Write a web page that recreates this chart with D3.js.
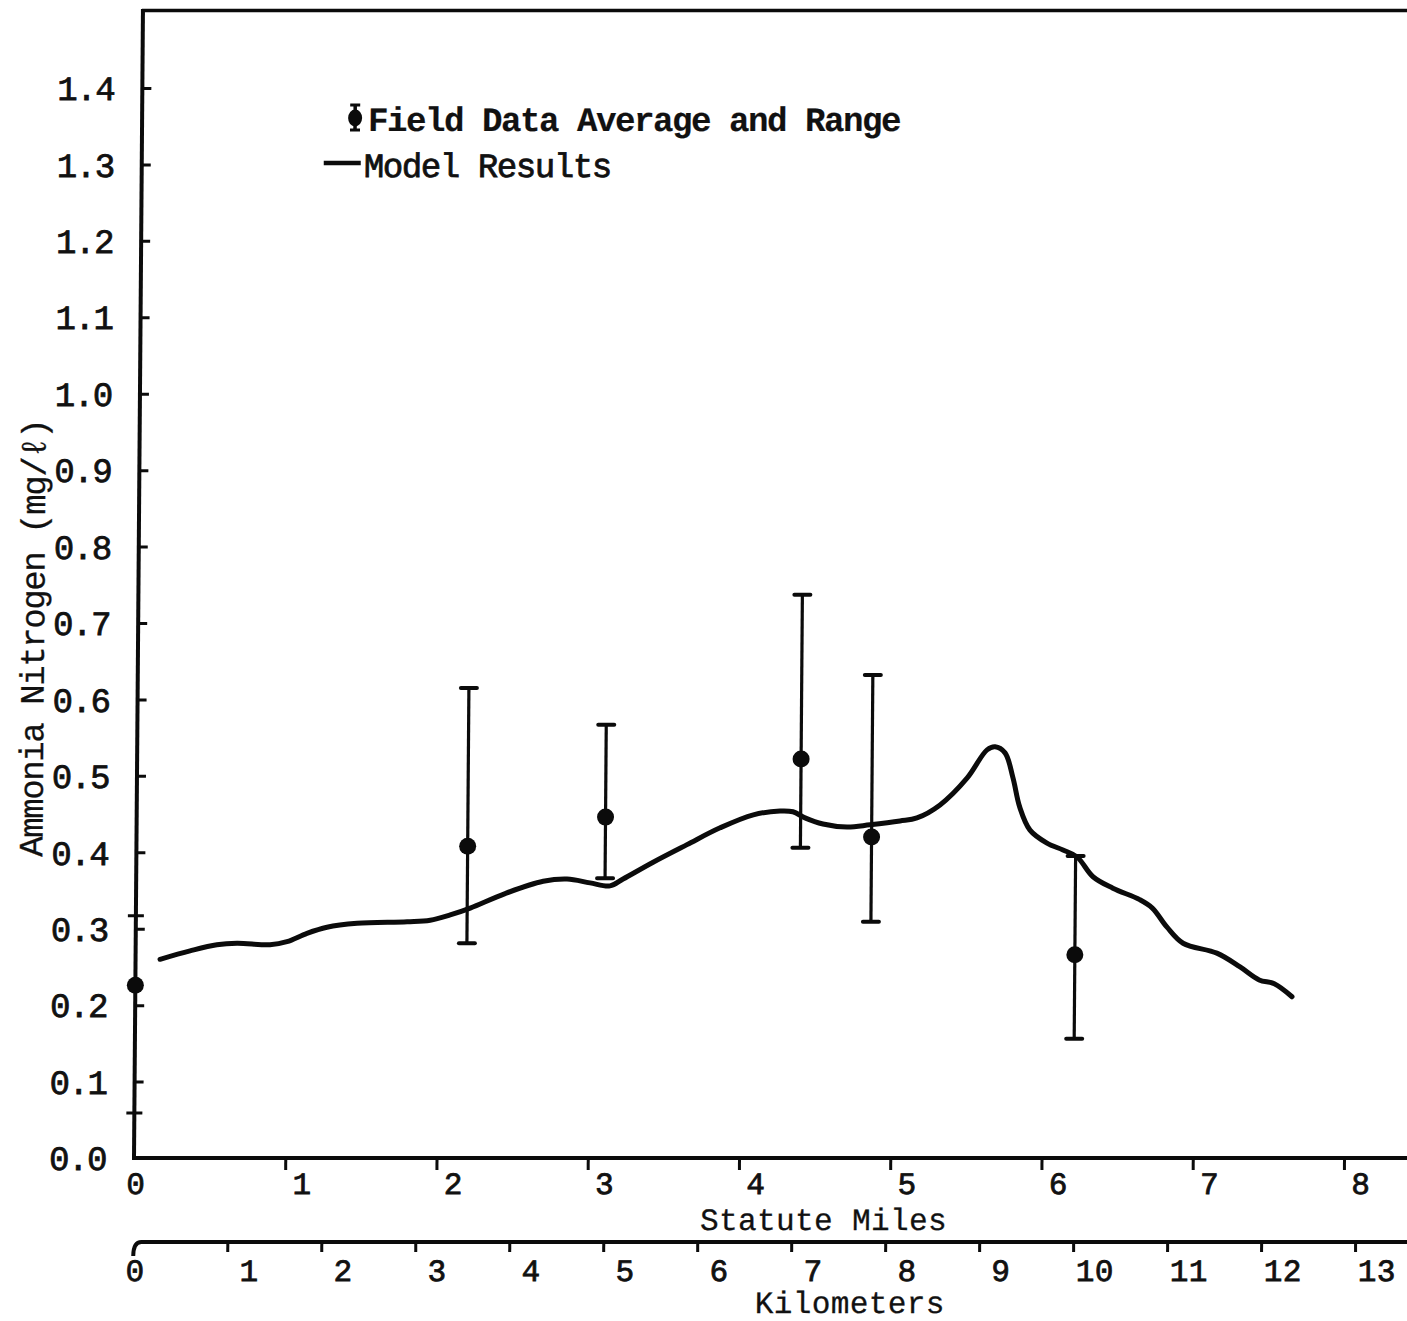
<!DOCTYPE html>
<html>
<head>
<meta charset="utf-8">
<script src="https://cdn.jsdelivr.net/npm/d3@7"></script>
<style>
  html, body { margin: 0; padding: 0; background: #fff; }
  svg { display: block; }
  .tt { font-family: "Liberation Mono", "Courier New", monospace; font-size: 34px; letter-spacing: -1.4px;
        fill: #111; stroke: #111; stroke-width: 0.8px; }
  .bold { font-weight: bold; stroke-width: 0.2px; }
  .ax { font-size: 31px; letter-spacing: 0.4px; }
</style>
</head>
<body>
<svg id="chart" width="1407" height="1321"></svg>
<script>
// Distance downstream (statute miles) and ammonia nitrogen (mg/l)
const milesTicks = [0, 1, 2, 3, 4, 5, 6, 7, 8];
const kmTicks = [0, 1, 2, 3, 4, 5, 6, 7, 8, 9, 10, 11, 12, 13];
const yTicks = [0.0, 0.1, 0.2, 0.3, 0.4, 0.5, 0.6, 0.7, 0.8, 0.9, 1.0, 1.1, 1.2, 1.3, 1.4];

// Field data: station position, average, and observed range
const fieldMiles = [0.0, 2.19, 3.10, 4.39, 4.86, 6.21];
const fieldAvg   = [0.226, 0.408, 0.446, 0.522, 0.420, 0.266];
const fieldMin   = [null, 0.281, 0.366, 0.406, 0.309, 0.156];
const fieldMax   = [null, 0.615, 0.567, 0.737, 0.632, 0.395];

// Model results along the reach
const modelMiles = [0.162, 0.360, 0.537, 0.670, 0.888, 1.000, 1.132, 1.264, 1.463, 1.794, 1.946,
  2.078, 2.210, 2.440, 2.691, 2.849, 3.001, 3.133, 3.219, 3.417, 3.640, 3.858, 4.077,
  4.253, 4.339, 4.419, 4.538, 4.697, 4.849, 5.047, 5.159, 5.311, 5.488, 5.619, 5.672, 5.738,
  5.791, 5.838, 5.907, 6.020, 6.126, 6.219, 6.326, 6.458, 6.636, 6.720, 6.818, 6.925, 7.149,
  7.303, 7.430, 7.530, 7.648];
const modelValues = [0.260, 0.271, 0.279, 0.281, 0.279, 0.283, 0.294, 0.302, 0.307, 0.309, 0.311,
  0.318, 0.327, 0.346, 0.362, 0.365, 0.360, 0.356, 0.365, 0.387, 0.410, 0.432, 0.449,
  0.454, 0.453, 0.445, 0.437, 0.433, 0.436, 0.441, 0.445, 0.462, 0.497, 0.534, 0.538, 0.530,
  0.498, 0.459, 0.429, 0.412, 0.403, 0.394, 0.368, 0.353, 0.338, 0.327, 0.302, 0.281, 0.268,
  0.250, 0.233, 0.228, 0.211];

// Stray check marks typed on the vertical axis
const axisMarks = [0.317, 0.059];

const KM_PER_MILE = 1.609344;
const W = 1407, H = 1321;
const x0 = 134, pxPerMile = 151.25;
const yBase = 1158;

const svg = d3.select("#chart");
svg.append("rect").attr("width", W).attr("height", H).attr("fill", "#fff");

// the whole sheet leans slightly to the right toward the top
const g = svg.append("g")
  .attr("transform", `translate(0,${yBase}) skewX(-0.447) translate(0,${-yBase})`);

const maxMiles = (W - x0) / pxPerMile;
const x = d3.scaleLinear().domain([0, maxMiles]).range([x0, x0 + maxMiles * pxPerMile]);
const xKm = d3.scaleLinear().domain([0, maxMiles * KM_PER_MILE]).range([x0, x0 + maxMiles * pxPerMile]);
const y = d3.scaleLinear().domain([0, 1.5]).range([yBase, yBase - 1.5 * 764.3]);

const ink = "#0b0b0b";

// frame: top rule and vertical axis
g.append("line").attr("x1", x(0) - 1).attr("x2", W + 20)
  .attr("y1", y(1.5) - 1).attr("y2", y(1.5) - 1).attr("stroke", ink).attr("stroke-width", 3.5);
g.append("line").attr("x1", x(0)).attr("x2", x(0))
  .attr("y1", y(1.5) - 2.5).attr("y2", y(0) + 2).attr("stroke", ink).attr("stroke-width", 4);

// y ticks (pointing into the plot)
const yAxis = d3.axisRight(y).tickValues(yTicks.filter(v => v > 0)).tickSize(9).tickFormat("");
const yg = g.append("g").attr("transform", `translate(${x(0)},0)`).call(yAxis);
yg.select(".domain").remove();
yg.selectAll(".tick line").attr("stroke", ink).attr("stroke-width", 3);

// stray crossing marks
g.selectAll(".mark").data(axisMarks).join("line")
  .attr("x1", x(0) - 8).attr("x2", x(0) + 8)
  .attr("y1", d => y(d)).attr("y2", d => y(d))
  .attr("stroke", ink).attr("stroke-width", 3);

// y labels
g.selectAll(".ylab").data(yTicks).join("text")
  .attr("class", "tt")
  .attr("x", x(0) - 28).attr("y", d => y(d))
  .attr("dy", "0.36em").attr("text-anchor", "end")
  .text(d => d3.format(".1f")(d));

// y title
g.append("text").attr("class", "tt")
  .attr("transform", `translate(40,${y(0.68)}) rotate(-90)`)
  .attr("text-anchor", "middle")
  .style("stroke-width", "0.3px")
  .text("Ammonia Nitrogen (mg/ℓ)");

// statute miles axis
g.append("line").attr("x1", x(0) - 2).attr("x2", W + 20)
  .attr("y1", y(0)).attr("y2", y(0)).attr("stroke", ink).attr("stroke-width", 4);
const xAxis = d3.axisBottom(x).tickValues(milesTicks.filter(v => v > 0)).tickSize(12).tickFormat("");
const xg = g.append("g").attr("transform", `translate(0,${y(0)})`).call(xAxis);
xg.select(".domain").remove();
xg.selectAll(".tick line").attr("stroke", ink).attr("stroke-width", 3);
g.selectAll(".xlab").data(milesTicks).join("text")
  .attr("class", "tt ax")
  .attr("x", d => x(d) + (d === 0 ? 2 : 17)).attr("y", y(0) + 25)
  .attr("dy", "0.36em").attr("text-anchor", "middle")
  .text(d => d);
g.append("text").attr("class", "tt ax").style("stroke-width", "0.3px")
  .attr("x", 824).attr("y", y(0) + 61).attr("dy", "0.36em").attr("text-anchor", "middle")
  .text("Statute Miles");

// kilometers axis
const kmY = y(0) + 84;
g.append("path")
  .attr("d", `M${xKm(0)},${kmY + 14} Q${xKm(0)},${kmY} ${xKm(0) + 8},${kmY} H${W + 20}`)
  .attr("fill", "none").attr("stroke", ink).attr("stroke-width", 4);
const kAxis = d3.axisBottom(xKm).tickValues(kmTicks.filter(v => v > 0)).tickSize(10).tickFormat("");
const kg = g.append("g").attr("transform", `translate(0,${kmY})`).call(kAxis);
kg.select(".domain").remove();
kg.selectAll(".tick line").attr("stroke", ink).attr("stroke-width", 3);
g.selectAll(".klab").data(kmTicks).join("text")
  .attr("class", "tt ax")
  .attr("x", d => xKm(d) + (d === 0 ? 2 : 22)).attr("y", kmY + 28)
  .attr("dy", "0.36em").attr("text-anchor", "middle")
  .text(d => d);
g.append("text").attr("class", "tt ax").style("stroke-width", "0.3px")
  .attr("x", 851).attr("y", kmY + 60).attr("dy", "0.36em").attr("text-anchor", "middle")
  .text("Kilometers");

// model curve
const modelData = modelMiles.map((m, i) => [m, modelValues[i]]);
g.append("path").datum(modelData)
  .attr("d", d3.line().x(d => x(d[0])).y(d => y(d[1])).curve(d3.curveCatmullRom.alpha(0.5)))
  .attr("fill", "none").attr("stroke", ink).attr("stroke-width", 5)
  .attr("stroke-linecap", "round").attr("stroke-linejoin", "round");

// field data: ranges and averages
const field = fieldMiles.map((m, i) => ({ m, avg: fieldAvg[i], lo: fieldMin[i], hi: fieldMax[i] }));
const withRange = field.filter(d => d.lo != null);
g.selectAll(".rng").data(withRange).join("line")
  .attr("x1", d => x(d.m)).attr("x2", d => x(d.m))
  .attr("y1", d => y(d.lo)).attr("y2", d => y(d.hi))
  .attr("stroke", ink).attr("stroke-width", 3.2);
const capHalf = 8;
["lo", "hi"].forEach(k => {
  g.selectAll(".cap-" + k).data(withRange).join("line")
    .attr("x1", d => x(d.m) - capHalf).attr("x2", d => x(d.m) + capHalf)
    .attr("y1", d => y(d[k])).attr("y2", d => y(d[k]))
    .attr("stroke", ink).attr("stroke-width", 4).attr("stroke-linecap", "round");
});
g.selectAll(".avg").data(field).join("circle")
  .attr("cx", d => x(d.m)).attr("cy", d => y(d.avg)).attr("r", 8.5).attr("fill", ink);

// legend
const lg = g.append("g");
lg.append("line").attr("x1", 347).attr("x2", 347).attr("y1", 104).attr("y2", 131)
  .attr("stroke", ink).attr("stroke-width", 3.5);
lg.append("line").attr("x1", 342).attr("x2", 352).attr("y1", 105).attr("y2", 105)
  .attr("stroke", ink).attr("stroke-width", 3);
lg.append("line").attr("x1", 342).attr("x2", 352).attr("y1", 130).attr("y2", 130)
  .attr("stroke", ink).attr("stroke-width", 3);
lg.append("ellipse").attr("cx", 347).attr("cy", 118).attr("rx", 7).attr("ry", 8.5).attr("fill", ink);
lg.append("text").attr("class", "tt bold").attr("x", 360).attr("y", 119).attr("dy", "0.36em")
  .text("Field Data Average and Range");
lg.append("line").attr("x1", 316).attr("x2", 353).attr("y1", 163).attr("y2", 163)
  .attr("stroke", ink).attr("stroke-width", 4.5);
lg.append("text").attr("class", "tt")
  .attr("x", 356).attr("y", 165).attr("dy", "0.36em")
  .text("Model Results");
</script>
</body>
</html>
